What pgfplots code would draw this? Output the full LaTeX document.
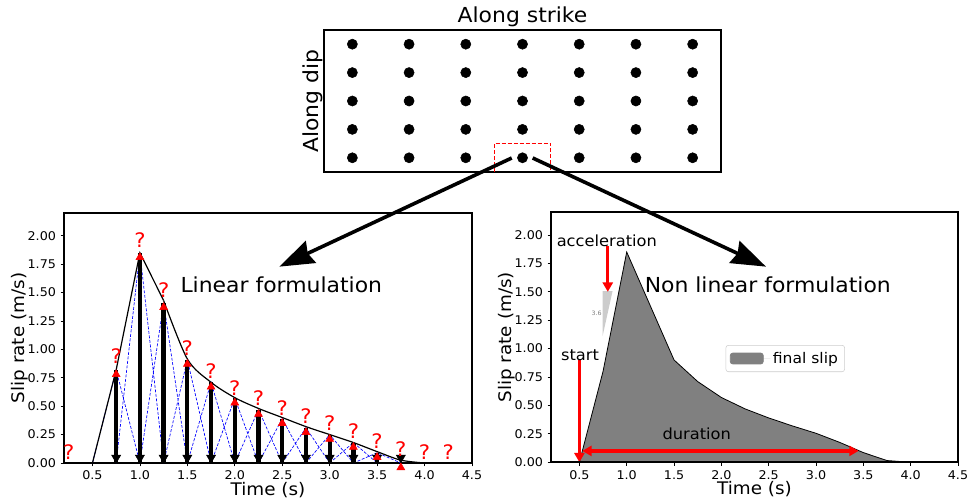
\documentclass[border=0pt]{standalone}
\usepackage{pgfplots}
\pgfplotsset{compat=1.18}
\usepackage{fontspec}
\setmainfont{DejaVu Sans}[FakeStretch=1.06]
\usetikzlibrary{arrows.meta}
\definecolor{lgray}{RGB}{204,204,204}
\definecolor{mgray}{RGB}{128,128,128}
\pgfplotsset{
  /pgf/number format/assume math mode=true,
  slipaxis/.style={
    anchor=south west, scale only axis,
    xmin=0.2, xmax=4.5, ymin=0, ymax=2.2,
    xtick={0.5,1,1.5,2,2.5,3,3.5,4,4.5},
    ytick={0,0.25,0.5,0.75,1,1.25,1.5,1.75,2},
    tick pos=left, tick align=outside, major tick length=2.5pt,
    tick style={black, line width=0.6pt},
    axis line style={black, line width=1pt},
    xticklabel style={/pgf/number format/.cd, fixed, fixed zerofill, precision=1},
    yticklabel style={/pgf/number format/.cd, fixed, fixed zerofill, precision=2},
    ticklabel style={font=\fontsize{9}{10}\selectfont},
    xlabel={Time (s)}, ylabel={Slip rate (m/s)},
    label style={font=\fontsize{13}{15}\selectfont},
    xlabel style={at={(axis description cs:0.5,-0.108)}, anchor=center},
    ylabel style={at={(axis description cs:-0.108,0.5)}, anchor=center},
    clip=false,
  }
}
\begin{document}
\begin{tikzpicture}
\useasboundingbox (0,0) rectangle (726pt,376.5pt);

% ---------- top fault grid ----------
\begin{axis}[at={(243pt,247.5pt)}, anchor=south west, scale only axis,
  width=297.75pt, height=106.5pt,
  xmin=0.5, xmax=7.5, ymin=0.5, ymax=5.5,
  xtick=\empty, ytick=\empty, axis line style={black, line width=1pt},
  title={Along strike}, ylabel={Along dip},
  every axis title/.style={at={(axis description cs:0.5,1)}, anchor=center, yshift=9.75pt, font=\fontsize{15.5}{17}\selectfont},
  ylabel style={at={(axis description cs:-0.0277,0.5)}, anchor=center, font=\fontsize{15.5}{17}\selectfont},
  clip=false]
\addplot[only marks, mark=*, mark size=3.8pt, black] table {
x y
1 1
2 1
3 1
4 1
5 1
6 1
7 1
1 2
2 2
3 2
4 2
5 2
6 2
7 2
1 3
2 3
3 3
4 3
5 3
6 3
7 3
1 4
2 4
3 4
4 4
5 4
6 4
7 4
1 5
2 5
3 5
4 5
5 5
6 5
7 5
};
\addplot[red, line width=0.8pt, dash pattern=on 3pt off 1.5pt] coordinates {(3.5,0.5) (3.5,1.5) (4.5,1.5) (4.5,0.5)};
\end{axis}

% ---------- left: linear formulation ----------
\begin{axis}[slipaxis, at={(48pt,29.25pt)}, width=306pt, height=187.5pt]
\addplot[blue, line width=0.5pt, dash pattern=on 2.2pt off 1.2pt, unbounded coords=jump] table {
x y
0.5 0
0.75 0.82
1.0 0
nan nan
0.75 0
1.0 1.85
1.25 0
nan nan
1.0 0
1.25 1.41
1.5 0
nan nan
1.25 0
1.5 0.91
1.75 0
nan nan
1.5 0
1.75 0.71
2.0 0
nan nan
1.75 0
2.0 0.57
2.25 0
nan nan
2.0 0
2.25 0.47
2.5 0
nan nan
2.25 0
2.5 0.39
2.75 0
nan nan
2.5 0
2.75 0.31
3.0 0
nan nan
2.75 0
3.0 0.25
3.25 0
nan nan
3.0 0
3.25 0.18
3.5 0
nan nan
3.25 0
3.5 0.09
3.75 0
};
\addplot[ycomb, black, line width=3.2pt, mark=none] table {
x y
0.75 0.82
1.0 1.85
1.25 1.41
1.5 0.91
1.75 0.71
2.0 0.57
2.25 0.47
2.5 0.39
2.75 0.31
3.0 0.25
3.25 0.18
3.5 0.09
};
\addplot[black, line width=0.9pt] coordinates {(0.5,0) (0.75,0.82) (1.0,1.85) (1.25,1.43)};
\addplot[black, line width=0.9pt, smooth] coordinates {(1.25,1.43) (1.5,0.915) (1.75,0.71) (2.0,0.575) (2.25,0.48) (2.5,0.40) (2.75,0.32) (3.0,0.25) (3.25,0.18) (3.5,0.10) (3.75,0.025) (4.0,0)};
\addplot[black, line width=0.9pt] coordinates {(4.0,0) (4.5,0)};
% black down heads
\addplot[only marks, mark=triangle*, mark size=3.9pt, mark options={rotate=180, fill=black, draw=black}] table {
x y
0.75 0.046
1.0 0.046
1.25 0.046
1.5 0.046
1.75 0.046
2.0 0.046
2.25 0.046
2.5 0.046
2.75 0.046
3.0 0.046
3.25 0.046
3.5 0.046
3.75 0.046
};
% red up heads
\addplot[only marks, mark=triangle*, mark size=3.4pt, mark options={fill=red, draw=red}] table {
x y
0.75 0.78
1.0 1.81
1.25 1.37
1.5 0.87
1.75 0.67
2.0 0.53
2.25 0.43
2.5 0.35
2.75 0.27
3.0 0.21
3.25 0.14
3.5 0.05
3.75 -0.04
};
\addplot[draw=none, mark=none, nodes near coords={?},
  every node near coord/.style={anchor=center, text=red, inner sep=0pt, font=\fontsize{15}{15}\selectfont}] table {
x y
0.25 0.10
0.75 0.94
1.0 1.96
1.25 1.52
1.5 1.01
1.75 0.81
2.0 0.66
2.25 0.57
2.5 0.48
2.75 0.41
3.0 0.35
3.25 0.28
3.5 0.19
3.75 0.12
4.0 0.10
4.25 0.10
};
\node[font=\fontsize{15.5}{17}\selectfont] at (axis cs:2.49,1.57) {Linear formulation};
\end{axis}

% ---------- right: non linear formulation ----------
\begin{axis}[slipaxis, name=R, at={(413.25pt,29.8pt)}, width=305.25pt, height=187.5pt,
  legend style={at={(0.429,0.469)}, anchor=north west, draw=lgray, rounded corners=2pt,
    font=\fontsize{11}{13}\selectfont, inner xsep=3pt, inner ysep=3pt},
  legend cell align=left]
\addplot[fill=mgray, draw=black, line width=0.6pt,
  legend image code/.code={\fill[mgray] (0pt,-4.1pt) rectangle (24.75pt,4.1pt); \path[draw=none] (0pt,0pt) -- (30pt,0pt);}]
  coordinates {(0.5,0) (0.75,0.8) (1.0,1.85) (1.5,0.9) (1.75,0.71) (2.0,0.57) (2.25,0.47) (2.5,0.39) (2.75,0.32) (3.0,0.255) (3.25,0.175) (3.5,0.085) (3.75,0.015) (4.0,0) (4.5,0)} \closedcycle;
\addlegendentry{final slip}
\addplot[fill=lgray, draw=none, forget plot] coordinates {(0.745,1.505) (0.85,1.505) (0.745,1.11) (0.745,1.505)};
\node[text=mgray, font=\fontsize{4.5}{5}\selectfont] at (axis cs:0.683,1.308) {3.6};
\addplot[red, line width=2.5pt, -{Triangle[length=7pt,width=7.5pt]}, forget plot] coordinates {(0.8,1.9) (0.8,1.5)};
\addplot[red, line width=2.5pt, -{Triangle[length=7pt,width=7.5pt]}, forget plot] coordinates {(0.5,0.9) (0.5,0)};
\addplot[red, line width=2.5pt, {Triangle[length=7pt,width=7.5pt]}-{Triangle[length=7pt,width=7.5pt]}, forget plot] coordinates {(0.53,0.1) (3.45,0.1)};
\node[font=\fontsize{11.5}{13}\selectfont] at (axis cs:0.79,1.95) {acceleration};
\node[font=\fontsize{11.5}{13}\selectfont] at (axis cs:0.506,0.945) {start};
\node[font=\fontsize{11.5}{13}\selectfont] at (axis cs:1.74,0.25) {duration};
\node[font=\fontsize{15.5}{17}\selectfont] at (axis cs:2.49,1.56) {Non linear formulation};
\end{axis}
\draw[black, line width=1.6pt] (R.south west) rectangle (R.north east);

% ---------- connecting arrows ----------
\draw[line width=2.7pt, -{Stealth[length=26pt,width=18pt,inset=2.5pt]}] (383.8pt,258pt) -- (209.5pt,176.5pt);
\draw[line width=2.7pt, -{Stealth[length=26pt,width=18pt,inset=2.5pt]}] (399.5pt,258pt) -- (574.5pt,176.5pt);
\end{tikzpicture}
\end{document}
